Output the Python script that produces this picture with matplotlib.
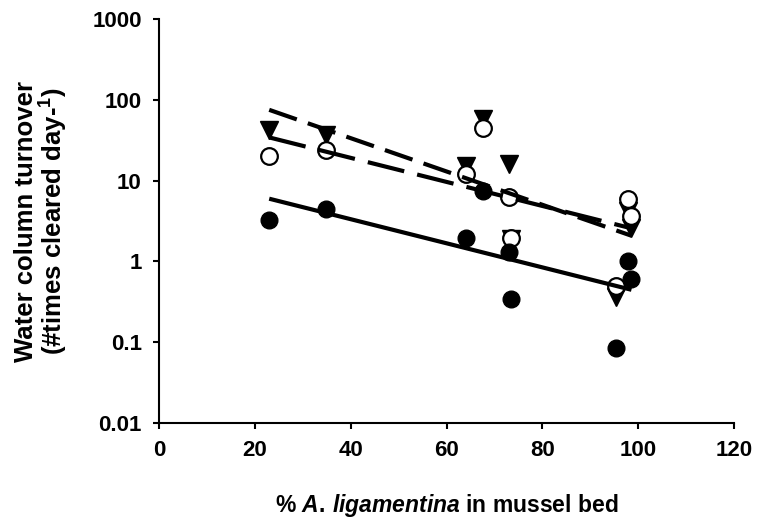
import numpy as np
import matplotlib
matplotlib.use("Agg")
import matplotlib.pyplot as plt
from matplotlib.ticker import FixedLocator, FixedFormatter, NullLocator

plt.rcParams['font.family'] = ['Liberation Sans', 'DejaVu Sans']
plt.rcParams['font.weight'] = 'bold'
plt.rcParams['mathtext.fontset'] = 'custom'
plt.rcParams['mathtext.rm'] = 'Liberation Sans:bold'
plt.rcParams['mathtext.bf'] = 'Liberation Sans:bold'
plt.rcParams['mathtext.it'] = 'Liberation Sans:italic:bold'
plt.rcParams['mathtext.bfit'] = 'Liberation Sans:italic:bold'

# % A. ligamentina at each site
pct = [23.0, 34.9, 64.1, 67.7, 73.0, 73.4, 95.4, 97.8, 98.6]

# water column turnover (#times cleared per day), three series
filled = [3.3, 4.5, 1.96, 7.5, 1.32, 0.346, 0.084, 1.0, 0.61]
open_c = [20.4, 24.2, 12.1, 44.7, 6.3, 1.96, 0.495, 6.0, 3.6]
tri = [42.6, 37.0, 15.0, 58.0, 16.0, 1.87, 0.36, 4.2, 2.6]

xticks = [0, 20, 40, 60, 80, 100, 120]
yticks = [0.01, 0.1, 1, 10, 100, 1000]
ylabels = ['0.01', '0.1', '1', '10', '100', '1000']

fig = plt.figure(figsize=(7.57, 5.23), dpi=100)
ax = fig.add_axes([159/757, 1-423/523, (734-159)/757, (423-19)/523])

x = np.array(pct)

# exponential trendlines (log-linear fit), drawn over the markers like excel
def trend(y):
    b, a = np.polyfit(x, np.log10(y), 1)
    xx = np.array([x.min(), x.max()])
    return xx, 10**(a + b*xx)

ax.plot(x, tri, linestyle='none', marker='v', ms=13.5, color='black', zorder=3)
ax.plot(x, open_c, linestyle='none', marker='o', ms=12, mfc='white', mec='black', mew=1.6, zorder=4)
ax.plot(x, filled, linestyle='none', marker='o', ms=12, color='black', zorder=5)

xx, yy = trend(filled)
ax.plot(xx, yy, color='black', lw=3, solid_capstyle='butt', zorder=6)
xx, yy = trend(open_c)
ax.plot(xx, yy, color='black', lw=3, dashes=(9, 3.2), zorder=6)
xx, yy = trend(tri)
ax.plot(xx, yy, color='black', lw=3, dashes=(7, 2.8), zorder=6)

ax.set_yscale('log')
ax.set_xlim(0, 120)
ax.set_ylim(0.01, 1000)
ax.yaxis.set_major_locator(FixedLocator(yticks))
ax.yaxis.set_major_formatter(FixedFormatter(ylabels))
ax.yaxis.set_minor_locator(NullLocator())
ax.set_xticks(xticks)

for s in ['top', 'right']:
    ax.spines[s].set_visible(False)
for s in ['left', 'bottom']:
    ax.spines[s].set_linewidth(1.5)
ax.tick_params(axis='both', direction='out', length=4.5, width=1.5, labelsize=16, pad=8)
for lab in ax.get_xticklabels() + ax.get_yticklabels():
    lab.set_fontweight('bold')

ax.set_xlabel('% $\\mathit{A.\\,ligamentina}$ in mussel bed', fontsize=16.5, fontweight='bold', labelpad=22)
ax.set_ylabel('Water column turnover\n(#times cleared day-$^{1}$)', fontsize=18.5,
              fontweight='bold', labelpad=16, linespacing=1.0)

fig.savefig('out.png', dpi=100)
